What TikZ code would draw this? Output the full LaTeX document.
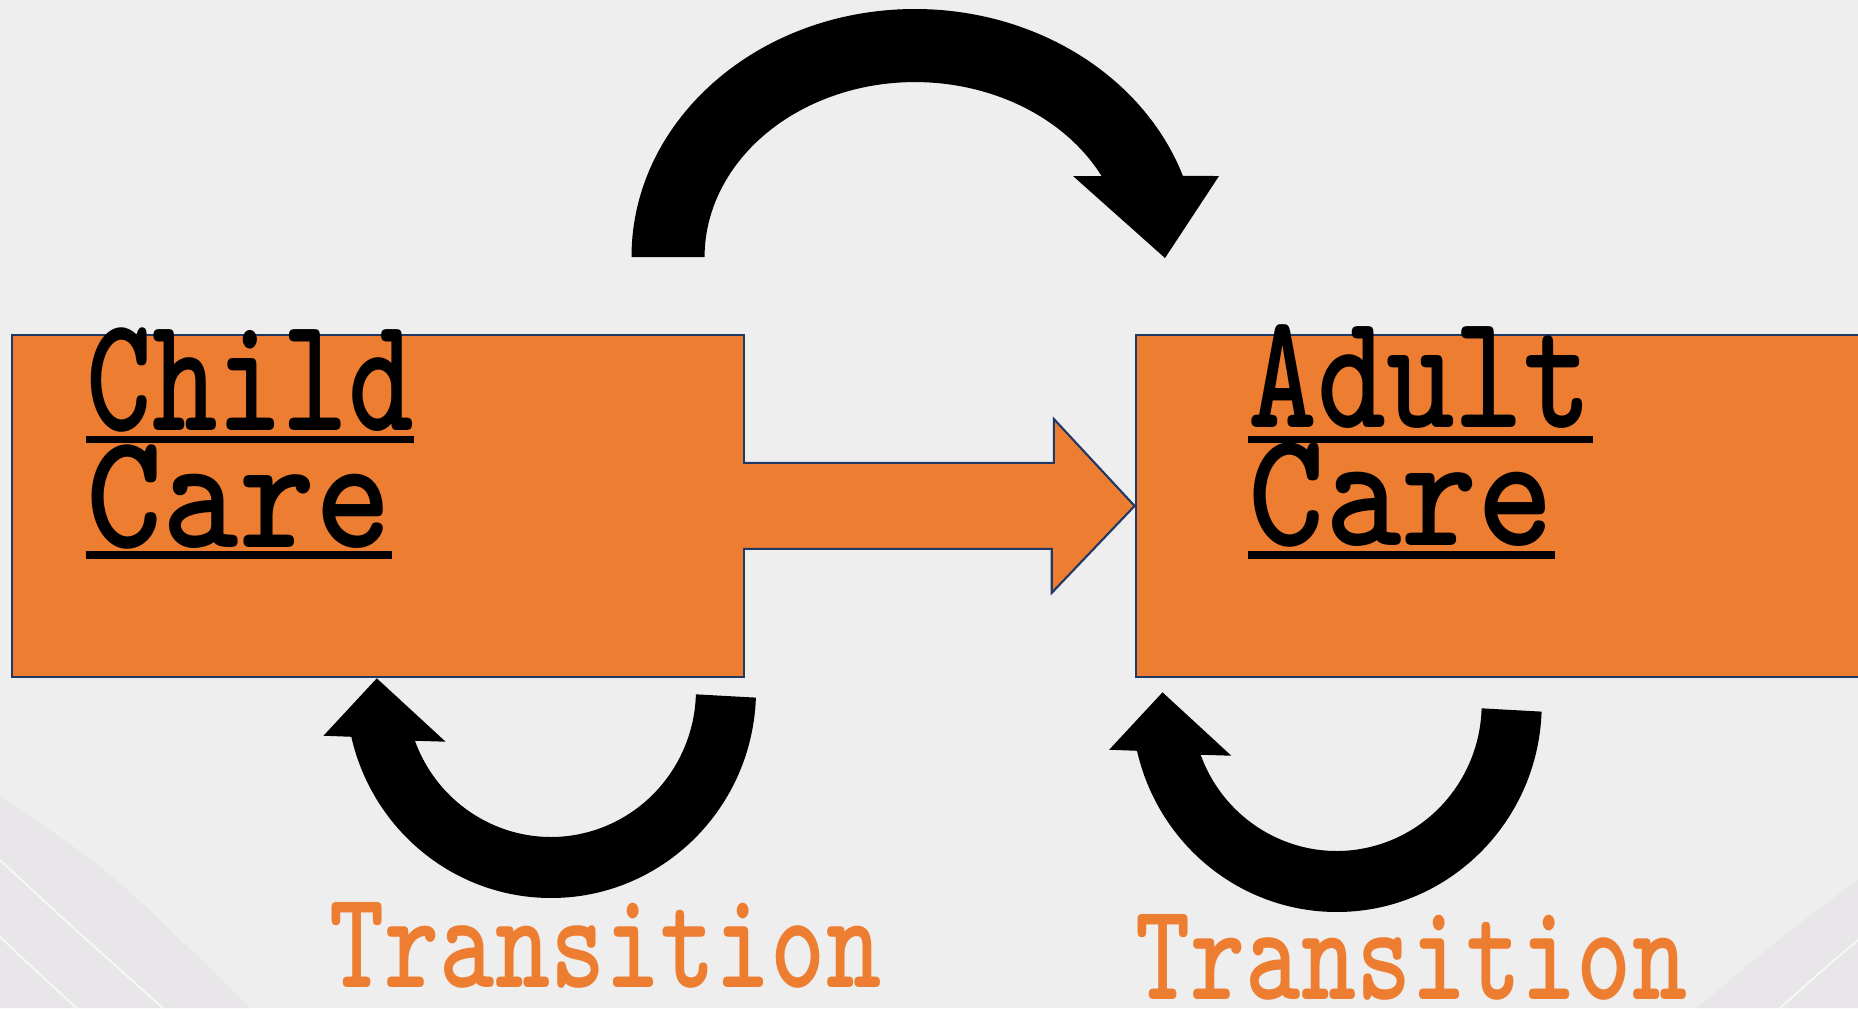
\documentclass[tikz,border=0pt]{standalone}
\usepackage{tikz}
\usetikzlibrary{calc}
\usepackage{xcolor}

\definecolor{slidegray}{HTML}{EEEEEE}
\definecolor{bandgray}{HTML}{E8E6E8}
\definecolor{swirlwhite}{HTML}{F6F6F6}
\definecolor{careorange}{HTML}{ED7D31}
\definecolor{boxline}{HTML}{203864}

\tikzset{
  carebox/.style={draw=boxline, fill=careorange, line width=0.6pt, inner sep=0pt,
    anchor=north west, minimum height=34.17mm},
  word/.style={inner sep=0pt, anchor=base west, transform shape},
  careword/.style={word, font=\ttfamily\bfseries\fontsize{47}{47}\selectfont},
  shiftword/.style={word, text=careorange, xscale=0.755,
    font=\ttfamily\bfseries\fontsize{39.6}{40}\selectfont},
  underline/.style={line width=0.73mm},
  swirl/.style={swirlwhite, line width=0.2mm},
  turnarrow/.pic={
    \fill (204.9,7.6) arc[start angle=2.1, end angle=167, x radius=205, y radius=208]
      -- (-227.5,45.7) -- (-174.2,-11.7) -- (-105.4,51.7) -- (-136.1,50.7)
      arc[start angle=159.8, end angle=1.7, x radius=145, y radius=147] -- cycle;
  }
}

\begin{document}
\begin{tikzpicture}[x=0.1mm, y=-0.1mm]
\useasboundingbox (0,0) rectangle (1858,1008);
\clip (0,0) rectangle (1858,1008);
% slide background with the corner swirls
\fill[slidegray] (0,0) rectangle (1858,1008);
\fill[bandgray] (0,797) .. controls (110,870) .. (250,1008) -- (0,1008) -- cycle;
\draw[swirl] (0,860) .. controls (70,925) .. (163,1008);
\draw[swirl] (0,936.7) .. controls (35,970) .. (76.7,1008);
\fill[bandgray] (1858,880) .. controls (1775,942) .. (1696.7,1008) -- (1858,1008) -- cycle;
\draw[swirl] (1858,940) .. controls (1818,974) .. (1780,1008);

% the two care boxes and the block arrow between them
\node[carebox, minimum width=73.2mm] (childbox) at (11,334) {};
\node[carebox, minimum width=80mm] (adultbox) at (1134.6,334) {};
\draw[boxline, line width=0.6pt, fill=careorange]
  ($(childbox.east)+(-2,-43)$) -- ($(childbox.east)+(308.7,-43)$) -- ++(0,-44)
  -- (adultbox.west) -- ++(-82.9,87) -- ++(0,-44) -- ($(childbox.east)+(-2,43)$);

% box titles, each line underlined
\node[careword, xscale=0.755] (child) at (86,430) {Child};
\node[careword, xscale=0.879] (childcare) at (86,547) {Care};
\node[careword, xscale=0.793] (adult) at (1248,427) {Adult};
\node[careword, xscale=0.881] (adultcare) at (1248,545) {Care};
\foreach \w/\d in {child/9.7, childcare/8, adult/12.7, adultcare/10}
  \draw[underline] ($(\w.base west)+(0,\d)$) -- ($(\w.base east)+(0,\d)$);

% curved arrows: one over the top, one under each box
\fill (631.5,257) arc[start angle=180, end angle=340.9, x radius=283.5, y radius=248]
  -- (1219,176) -- (1165,258) -- (1073,176) -- (1101.6,176)
  arc[start angle=332.4, end angle=180, x radius=210.5, y radius=175] -- cycle;
\pic (childturn) at (551,690) {turnarrow};
\pic (adultturn) at (1336.7,704) {turnarrow};

% labels under the loops
\node[shiftword] (childshift) at (329,987) {Transition};
\node[shiftword] (adultshift) at (1135,999) {Transition};
\end{tikzpicture}
\end{document}
